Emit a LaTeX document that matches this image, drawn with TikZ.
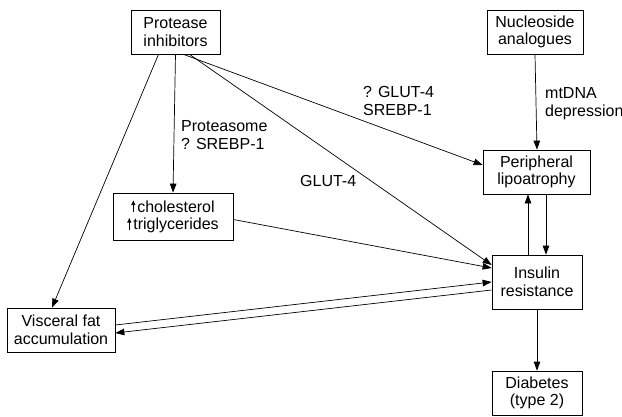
\documentclass[tikz,border=0pt]{standalone}
\usepackage{fontspec}
\setmainfont{Liberation Sans}
\usetikzlibrary{arrows.meta,calc}
\newcommand{\uparr}{\tikz[baseline=0pt]\draw[-{Triangle[length=4.5pt,width=4pt]},line width=0.7pt] (0,0)--(0,11.5pt);\hspace{2pt}}
\begin{document}
\begin{tikzpicture}[x=1pt,y=-1pt,
  box/.style={draw,line width=0.7pt,align=center,inner sep=0pt,font=\fontsize{16}{17.5}\selectfont},
  lbl/.style={align=left,anchor=west,inner sep=0pt,font=\fontsize{16}{17.5}\selectfont},
  arr/.style={-{Triangle[length=9pt,width=6.5pt]},line width=0.7pt}]
\useasboundingbox (0,0) rectangle (622,416);
\node[box,minimum width=89,minimum height=44] (pi) at (175.5,32) {Protease\\inhibitors};
\node[box,minimum width=96,minimum height=44] (na) at (535,32) {Nucleoside\\analogues};
\node[box,minimum width=107,minimum height=44] (pl) at (536.5,172) {Peripheral\\lipoatrophy};
\node[box,minimum width=120,minimum height=47] (ch) at (173,216.5) {\uparr cholesterol\\\uparr triglycerides};
\node[box,minimum width=90,minimum height=54] (ir) at (537,282) {Insulin\\resistance};
\node[box,minimum width=90,minimum height=44] (db) at (537,393) {Diabetes\\(type 2)};
\node[box,minimum width=108,minimum height=44] (vf) at (61,330) {Visceral fat\\accumulation};
% arrows from protease inhibitors
\draw[arr] (pi.south) -- (ch.north);
\draw[arr] ($(pi.south)+(-17,0)$) -- ($(vf.north)+(-9,0)$);
\draw[arr] ($(pi.south)+(8,0)$) -- ($(pl.west)+(0,-7)$);
\draw[arr] ($(pi.south)+(14,0)$) -- ($(ir.west)+(0,-17)$);
\draw[arr] (na.south) -- ($(pl.north)+(0.5,0)$);
\draw[arr] ($(ir.north)+(-9,0)$) -- ($(pl.south)+(-8.5,0)$);
\draw[arr] ($(pl.south)+(9.5,0)$) -- ($(ir.north)+(9,0)$);
\draw[arr] ($(ch.east)+(0,3)$) -- ($(ir.west)+(0,-14)$);
\draw[arr] ($(vf.east)+(0,-5)$) -- ($(ir.west)+(0,0)$);
\draw[arr] ($(ir.west)+(0,8)$) -- ($(vf.east)+(0,3)$);
\draw[arr] (ir.south) -- (db.north);
% labels
\node[lbl] (l1) at (181,135) {Proteasome\\? SREBP-1};
\node[lbl] (l2) at (363,101) {? GLUT-4\\SREBP-1};
\node[lbl] (l3) at (300,180.5) {GLUT-4};
\node[lbl] (l4) at (545,103.5) {mtDNA\\depression};
\end{tikzpicture}
\end{document}
